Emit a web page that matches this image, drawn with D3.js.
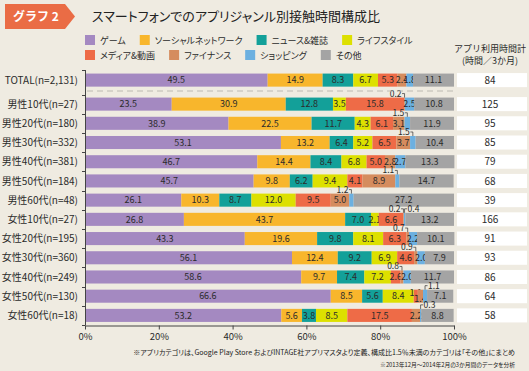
<!DOCTYPE html>
<html>
<head>
<meta charset="utf-8">
<script src="https://cdn.jsdelivr.net/npm/d3@7"></script>
<style>
  html, body { margin: 0; padding: 0; background: #efebe1; }
  svg { display: block; font-family: "Noto Sans CJK JP", "Noto Sans", sans-serif; }
  .palt { font-feature-settings: "palt"; }
</style>
</head>
<body>
<svg id="chart" width="529" height="371"></svg>
<script>
var categories = ['ゲーム', 'ソーシャルネットワーク', 'ニュース&雑誌', 'ライフスタイル',
    'メディア&動画', 'ファイナンス', 'ショッピング', 'その他'];
var colors = ['#a489c1', '#f8b62c', '#13a099', '#dde000', '#ee6b47', '#d58c5e', '#6cb0e0', '#a4a4a4'];

var rows = ['TOTAL(n=2,131)', '男性10代(n=27)', '男性20代(n=180)', '男性30代(n=332)',
    '男性40代(n=381)', '男性50代(n=184)', '男性60代(n=48)', '女性10代(n=27)',
    '女性20代(n=195)', '女性30代(n=360)', '女性40代(n=249)', '女性50代(n=130)', '女性60代(n=18)'];

// share (%) per category, one array per row
var shares = [
    [49.5, 14.9, 8.3, 6.7, 5.3, 2.4, 1.8, 11.1],
    [23.5, 30.9, 12.8, 3.5, 15.8, 0.2, 2.5, 10.8],
    [38.9, 22.5, 11.7, 4.3, 6.1, 3.1, 1.5, 11.9],
    [53.1, 13.2, 6.4, 5.2, 6.5, 3.7, 1.5, 10.4],
    [46.7, 14.4, 8.4, 6.8, 5.0, 2.8, 2.7, 13.3],
    [45.7, 9.8, 6.2, 9.4, 4.1, 8.9, 1.1, 14.7],
    [26.1, 10.3, 8.7, 12.0, 9.5, 5.0, 1.2, 27.2],
    [26.8, 43.7, 7.0, 2.1, 6.6, 0.2, 0.4, 13.2],
    [43.3, 19.6, 9.8, 8.1, 6.3, 0.7, 2.2, 10.1],
    [56.1, 12.4, 9.2, 6.9, 4.6, 0.9, 2.0, 7.9],
    [58.6, 9.7, 7.4, 7.2, 2.6, 0.8, 2.0, 11.7],
    [66.6, 8.5, 5.6, 8.4, 1.1, 1.4, 1.1, 7.1],
    [53.2, 5.6, 3.8, 8.5, 17.5, 2.2, 0.3, 8.8]
];

// total usage time (hours / 3 months)
var hours = [84, 125, 95, 85, 79, 68, 39, 166, 91, 93, 86, 64, 58];

// small values labelled above the bar: [row, category, side]
var callouts = [
    [1, 5, 'left'], [2, 6, 'left'], [3, 6, 'left'], [5, 6, 'left'], [6, 6, 'left'],
    [7, 5, 'left'], [7, 6, 'right'], [8, 5, 'left'], [9, 5, 'left'], [10, 5, 'left'],
    [11, 6, 'right'], [12, 6, 'right']
];

var xTicks = [0, 20, 40, 60, 80, 100];

var notes = [
    '※アプリカテゴリは、Google Play Store およびINTAGE社アプリマスタより定義、構成比1.5％未満のカテゴリは「その他」にまとめ',
    '※2013年12月～2014年2月の3か月間のデータを分析'
];

var svg = d3.select('#chart');
var textCol = '#2b2b2b';

// header badge + title
svg.append('path')
    .attr('d', 'M5,4H65L75,16.5L65,29H5Z')
    .attr('fill', '#ea6c45');
svg.append('text')
    .attr('x', 13).attr('y', 21)
    .attr('fill', '#fff')
    .attr('font-size', 12)
    .attr('font-weight', 'bold')
    .text('グラフ 2');
svg.append('text')
    .attr('class', 'palt')
    .attr('x', 92).attr('y', 20.5)
    .attr('fill', '#222')
    .attr('font-size', 13)
    .text('スマートフォンでのアプリジャンル別接触時間構成比');

// legend (two rows, flow layout)
var legendRows = [[0, 1, 2, 3], [4, 5, 6, 7]];
legendRows.forEach(function (items, ri) {
    var lx = 85;
    var ly = 40 + ri * 15;
    items.forEach(function (ci) {
        svg.append('rect')
            .attr('x', lx).attr('y', ly - 5)
            .attr('width', 10).attr('height', 10)
            .attr('fill', colors[ci]);
        var t = svg.append('text')
            .attr('class', 'palt')
            .attr('x', lx + 15).attr('y', ly + 3.5)
            .attr('font-size', 9)
            .attr('fill', textCol)
            .text(categories[ci]);
        lx += 15 + t.node().getComputedTextLength() + 14;
    });
});

// right column header
svg.append('text')
    .attr('x', 490).attr('y', 51.5)
    .attr('text-anchor', 'middle')
    .attr('font-size', 9).attr('fill', textCol)
    .text('アプリ利用時間計');
svg.append('text')
    .attr('x', 490).attr('y', 63.5)
    .attr('text-anchor', 'middle')
    .attr('font-size', 9).attr('fill', textCol)
    .text('(時間／3か月)');

// scales
var x = d3.scaleLinear().domain([0, 100]).range([85, 454]);
var yMain = d3.scaleBand()
    .domain(rows.slice(1))
    .range([94.5, 325])
    .paddingInner(0.32)
    .paddingOuter(0.16);
var bw = yMain.bandwidth();
function yTop(i) {
    return i === 0 ? yMain(rows[1]) - 24 : yMain(rows[i]);
}

var g = svg.append('g');

// bars
rows.forEach(function (r, i) {
    var cum = 0;
    var top = yTop(i);
    var row = g.append('g').attr('class', 'row');
    shares[i].forEach(function (v, ci) {
        var x0 = x(cum);
        var x1 = x(cum + v);
        cum += v;
        row.append('rect')
            .attr('x', x0).attr('y', top)
            .attr('width', Math.max(0, x1 - x0))
            .attr('height', bw)
            .attr('fill', colors[ci]);
        var isCallout = callouts.some(function (c) { return c[0] === i && c[1] === ci; });
        if (!isCallout) {
            var w = x1 - x0;
            var dy = w < 6 ? (ci % 2 === 0 ? -3 : 3) : 0;
            row.append('text')
                .attr('x', (x0 + x1) / 2)
                .attr('y', top + bw / 2 + 3.3 + dy)
                .attr('text-anchor', 'middle')
                .attr('font-size', 9)
                .attr('fill', textCol)
                .text(d3.format('.1f')(v));
        }
    });
});

// callout labels above narrow segments
callouts.forEach(function (c) {
    var i = c[0], ci = c[1], side = c[2];
    var start = d3.sum(shares[i].slice(0, ci));
    var v = shares[i][ci];
    var cx = (x(start) + x(start + v)) / 2;
    var top = yTop(i);
    var sx = side === 'left' ? cx - 2.5 : cx + 2.5;
    g.append('path')
        .attr('d', 'M' + sx + ',' + (top - 4) + 'H' + cx + 'V' + top)
        .attr('fill', 'none')
        .attr('stroke', '#333')
        .attr('stroke-width', 0.7);
    g.append('text')
        .attr('x', side === 'left' ? sx - 0.5 : sx + 0.5)
        .attr('y', top - 1)
        .attr('text-anchor', side === 'left' ? 'end' : 'start')
        .attr('font-size', 8.5)
        .attr('fill', textCol)
        .text(d3.format('.1f')(v));
});

// dashed separator below TOTAL
svg.append('line')
    .attr('x1', x(0) + 2).attr('x2', x(100) + 1)
    .attr('y1', 91).attr('y2', 91)
    .attr('stroke', '#bdbab2')
    .attr('stroke-width', 1)
    .attr('stroke-dasharray', '6,4');

// row labels
rows.forEach(function (r, i) {
    svg.append('text')
        .attr('x', 78)
        .attr('y', yTop(i) + bw / 2 + 3.6)
        .attr('text-anchor', 'end')
        .attr('font-size', 10)
        .attr('fill', textCol)
        .text(r);
});

// right column: usage hours
rows.forEach(function (r, i) {
    svg.append('rect')
        .attr('x', 457).attr('y', yTop(i) - 0.5)
        .attr('width', 70).attr('height', bw + 1)
        .attr('fill', '#fff');
    svg.append('text')
        .attr('x', 490)
        .attr('y', yTop(i) + bw / 2 + 3.6)
        .attr('text-anchor', 'middle')
        .attr('font-size', 10)
        .attr('fill', textCol)
        .text(hours[i]);
});

// y axis with ticks at row boundaries
var bounds = [70].concat(d3.range(13).map(function (k) { return 94.5 + k * yMain.step(); }));
var yAxis = svg.append('g').attr('stroke', '#444').attr('stroke-width', 1);
yAxis.append('line')
    .attr('x1', 85.5).attr('x2', 85.5)
    .attr('y1', 70).attr('y2', 325);
yAxis.selectAll('line.tick').data(bounds).enter()
    .append('line')
    .attr('class', 'tick')
    .attr('x1', 82).attr('x2', 85.5)
    .attr('y1', function (d) { return Math.round(d) + 0.5; })
    .attr('y2', function (d) { return Math.round(d) + 0.5; });

// x axis
var xAxis = d3.axisBottom(x)
    .tickValues(xTicks)
    .tickFormat(function (d) { return d + '%'; })
    .tickSize(4)
    .tickSizeOuter(0);
var xg = svg.append('g')
    .attr('transform', 'translate(0,325.5)')
    .call(xAxis);
xg.select('.domain').attr('stroke', '#444');
xg.selectAll('.tick line').attr('stroke', '#444');
xg.selectAll('.tick text')
    .attr('y', 8)
    .attr('font-size', 9.5)
    .attr('font-family', '"Noto Sans CJK JP", sans-serif')
    .attr('fill', textCol);

// footnotes
var noteSizes = [7, 5.8];
notes.forEach(function (n, k) {
    svg.append('text')
        .attr('class', 'palt')
        .attr('x', 515)
        .attr('y', 355 + k * 12)
        .attr('text-anchor', 'end')
        .attr('font-size', noteSizes[k])
        .attr('fill', '#222')
        .text(n);
});
</script>
</body>
</html>
